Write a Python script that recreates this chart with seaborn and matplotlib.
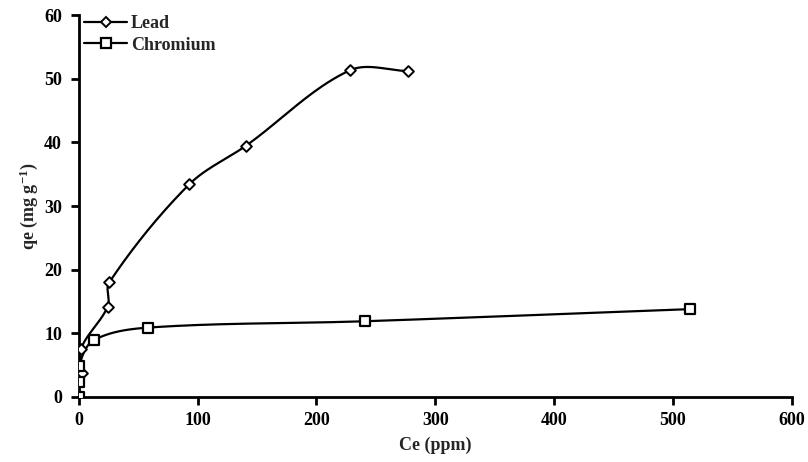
import numpy as np
import pandas as pd
import matplotlib
matplotlib.use("Agg")
import matplotlib.pyplot as plt
from matplotlib.lines import Line2D
import seaborn as sns

# Data
lead_ce = [3.0, 1.7, 24.4, 25.7, 93.0, 141.0, 228.0, 277.0]
lead_qe = [3.7, 7.5, 14.2, 18.0, 33.4, 39.5, 51.3, 51.2]
cr_ce = [0.0, 0.0, 0.0, 12.6, 58.5, 241.0, 514.0]
cr_qe = [0.0, 2.4, 4.8, 8.9, 10.9, 11.9, 13.8]
x_ticks = [0, 100, 200, 300, 400, 500, 600]
y_ticks = [0, 10, 20, 30, 40, 50, 60]

sns.set_style("ticks")
plt.rcParams["font.family"] = ["Liberation Serif", "DejaVu Serif"]
plt.rcParams["font.weight"] = "bold"
plt.rcParams["mathtext.fontset"] = "custom"
plt.rcParams["mathtext.rm"] = "Liberation Serif:bold"
plt.rcParams["mathtext.it"] = "Liberation Serif:bold"
plt.rcParams["mathtext.bf"] = "Liberation Serif:bold"

FS = 13

fig = plt.figure(figsize=(8.08, 4.62), dpi=100)
ax = fig.add_axes([0.0974, 0.1407, 0.8826, 0.8268])
ax.set_xlim(0, 600)
ax.set_ylim(0, 60)


def smooth(xs, ys, n=40):
    # Excel-like smoothed line (Bezier) computed in display space
    pts = ax.transData.transform(np.column_stack([xs, ys]))
    out = [pts[0]]
    m = len(pts)

    def tangent(i):
        a = pts[i - 1] if i > 0 else pts[i]
        b = pts[i + 1] if i + 1 < m else pts[i]
        d = b - a
        nrm = np.hypot(*d)
        return d / nrm if nrm > 0 else d

    for i in range(m - 1):
        p1 = pts[i]
        p2 = pts[i + 1]
        L = np.hypot(*(p2 - p1))
        c1 = p1 + tangent(i) * L * 0.33
        c2 = p2 - tangent(i + 1) * L * 0.33
        t = np.linspace(0, 1, n)[1:, None]
        seg = ((1 - t) ** 3) * p1 + 3 * ((1 - t) ** 2) * t * c1 + 3 * (1 - t) * t ** 2 * c2 + t ** 3 * p2
        out.extend(seg)
    out = np.array(out)
    return ax.transData.inverted().transform(out)


for xs, ys in [(lead_ce, lead_qe), (cr_ce, cr_qe)]:
    c = smooth(xs, ys)
    sns.lineplot(x=c[:, 0], y=c[:, 1], sort=False, ax=ax, color="black", lw=1.6, estimator=None)

sns.scatterplot(x=lead_ce, y=lead_qe, marker="D", s=30, facecolor="white", edgecolor="black",
                linewidth=1.4, ax=ax, zorder=5)
sns.scatterplot(x=cr_ce, y=cr_qe, marker="s", s=55, facecolor="white", edgecolor="black",
                linewidth=1.6, ax=ax, zorder=5)

ax.set_xticks(x_ticks)
ax.set_yticks(y_ticks)
ax.set_xlim(0, 600)
ax.set_ylim(0, 60)
ax.tick_params(direction="out", length=6, width=2, labelsize=FS, colors="black")
ax.tick_params(axis="y", pad=6)
ax.tick_params(axis="x", pad=5)
for lab in ax.get_xticklabels() + ax.get_yticklabels():
    lab.set_fontweight("bold")
sns.despine(ax=ax)
for s in ["left", "bottom"]:
    ax.spines[s].set_linewidth(2)
    ax.spines[s].set_color("black")
    ax.spines[s].set_clip_on(False)

ax.set_xlabel("Ce (ppm)", fontsize=FS, fontweight="bold", labelpad=5)
ax.set_ylabel(r"qe (mg g$^{-1}$)", fontsize=FS, fontweight="bold", labelpad=3)

handles = [
    Line2D([], [], color="black", lw=1.6, marker="D", markersize=5, markerfacecolor="white",
           markeredgecolor="black", markeredgewidth=1.4),
    Line2D([], [], color="black", lw=1.6, marker="s", markersize=7, markerfacecolor="white",
           markeredgecolor="black", markeredgewidth=1.6),
]
ax.legend(handles, ["Lead", "Chromium"], loc="upper left",
          bbox_to_anchor=(84 / 808, 1 - 15 / 462), bbox_transform=fig.transFigure,
          frameon=False, handlelength=2.4, handletextpad=0.2, labelspacing=0.25,
          borderpad=0, borderaxespad=0,
          prop={"family": "Liberation Serif", "weight": "bold", "size": FS})

fig.savefig("out.png", dpi=100)
